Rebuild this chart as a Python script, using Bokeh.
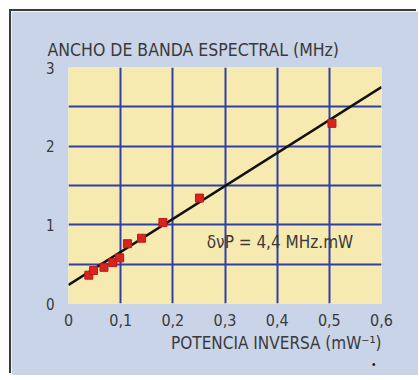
from bokeh.plotting import figure
from bokeh.models import Label, FixedTicker, Title
from bokeh.embed import file_html
from bokeh.resources import INLINE

# ---- data ----
inv_power = [0.039, 0.048, 0.068, 0.085, 0.098, 0.113, 0.140, 0.181, 0.251, 0.505]
bandwidth = [0.36, 0.42, 0.46, 0.52, 0.58, 0.76, 0.83, 1.03, 1.34, 2.29]
fit_x = [0.0, 0.6]
fit_y = [0.235, 2.75]
x_ticks = [0, 0.1, 0.2, 0.3, 0.4, 0.5, 0.6]
x_tick_labels = ["0", "0,1", "0,2", "0,3", "0,4", "0,5", "0,6"]
y_ticks = [0, 1, 2, 3]
y_tick_labels = ["0", "1", "2", "3"]
x_grid = [0.1, 0.2, 0.3, 0.4, 0.5]
y_grid = [0.5, 1.0, 1.5, 2.0, 2.5]
y_title = "ANCHO DE BANDA ESPECTRAL (MHz)"
x_title = "POTENCIA INVERSA (mW\u207b\u00b9)"
note = "\u03b4\u03bdP = 4,4 MHz.mW"

FONT = "'DejaVu Sans Condensed', 'Liberation Sans', sans-serif"
TXT = "#3a3a3a"

p = figure(width=407, height=364, x_range=(0, 0.6), y_range=(0, 3),
           output_backend="svg", toolbar_location=None,
           min_border_left=57, min_border_right=37,
           min_border_top=56, min_border_bottom=72)
p.styles = {"margin-left": "11px", "margin-top": "11px",
            "box-shadow": "-2px -2px 0px 0px #3a3a3a"}

p.border_fill_color = "#c9d4e8"
p.background_fill_color = "#f7eab0"
p.outline_line_color = None

p.xgrid.ticker = FixedTicker(ticks=x_grid)
p.ygrid.ticker = FixedTicker(ticks=y_grid)
for g in (p.xgrid, p.ygrid):
    g.grid_line_color = "#2d40a8"
    g.grid_line_width = 2
    g.grid_line_alpha = 1

p.xaxis.ticker = FixedTicker(ticks=x_ticks)
p.yaxis.ticker = FixedTicker(ticks=y_ticks)
p.xaxis.major_label_overrides = dict(zip(x_ticks, x_tick_labels))
p.yaxis.major_label_overrides = dict(zip(y_ticks, y_tick_labels))
for ax in (p.xaxis, p.yaxis):
    ax.axis_line_color = None
    ax.major_tick_line_color = None
    ax.minor_tick_line_color = None
    ax.major_label_text_font = FONT
    ax.major_label_text_color = TXT
p.xaxis.major_label_text_font_size = "16px"
p.yaxis.major_label_text_font_size = "15px"
p.xaxis.major_label_standoff = 4
p.yaxis.major_label_standoff = 8

p.line(fit_x, fit_y, line_color="#111111", line_width=2.5)
p.scatter(inv_power, bandwidth, marker="square", size=8,
          fill_color="#d8231f", line_color="#c01818")

p.add_layout(Title(text=y_title, align="left", offset=-21, standoff=11,
                   vertical_align="top",
                   text_font=FONT, text_font_size="17.5px", text_color=TXT,
                   text_font_style="normal"), "above")
p.add_layout(Title(text=x_title, align="right", offset=0, standoff=5,
                   text_font=FONT, text_font_size="17px", text_color=TXT,
                   text_font_style="normal"), "below")
p.add_layout(Title(text="\u2022", align="right", offset=6, standoff=2,
                   text_font_size="10px", text_color="#111111",
                   text_font_style="normal"), "below")
p.add_layout(Label(x=0.265, y=0.78, text=note,
                   text_font=FONT, text_font_size="17px", text_color=TXT,
                   text_baseline="alphabetic"))

open("out.html", "w").write(file_html(p, INLINE))
